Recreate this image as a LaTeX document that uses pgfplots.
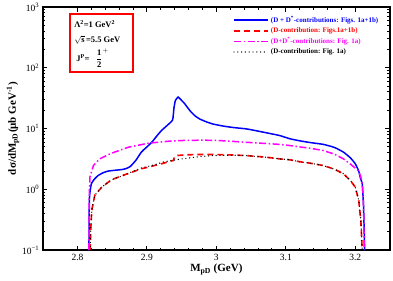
\documentclass[border=0pt]{standalone}
\usepackage{pgfplots}
\pgfplotsset{compat=1.18}
\usepackage{fontspec}
\setmainfont{Liberation Serif}
\definecolor{mblue}{RGB}{0,0,255}
\definecolor{mred}{RGB}{255,0,0}
\definecolor{mmag}{RGB}{255,0,255}
\begin{document}
\begin{tikzpicture}
\begin{axis}[
  name=ax,
  scale only axis,
  width=347pt, height=243pt,
  xmin=2.75, xmax=3.25,
  ymode=log, ymin=0.1, ymax=1000,
  xtick={2.8,2.9,3,3.1,3.2},
  xticklabels={2.8,2.9,3,3.1,3.2},
  minor x tick num=4,
  ytick={0.1,1,10,100,1000},
  yticklabels={10\textsuperscript{−1},10\textsuperscript{0},10\textsuperscript{1},10\textsuperscript{2},10\textsuperscript{3}},
  tick align=inside,
  major tick length=4.5pt,
  minor tick length=2.5pt,
  tick style={line width=1pt, black},
  axis line style={line width=1.8pt},
  ticklabel style={font=\fontsize{9.5}{10}\selectfont},
  xlabel={\textbf{M\textsubscript{pD} (GeV)}},
  ylabel={\textbf{dσ/dM\textsubscript{pD}(μb GeV\textsuperscript{-1})}},
  label style={font=\fontsize{11}{12}\selectfont},
  xlabel style={yshift=3pt},
  ylabel style={yshift=-4pt},
  legend cell align=left,
  legend style={draw=none, fill=none, at={(rel axis cs:0.545,0.975)}, anchor=north west,
     font=\fontsize{7}{8}\selectfont\bfseries, row sep=-0.5pt, inner sep=1pt},
  legend image code/.code={\draw[#1] (0cm,0cm) -- (1.2cm,0cm);},
  clip=true,
]
\addplot[mblue, line width=1.5pt, smooth, tension=0.3] coordinates {
(2.8165,0.1) (2.817,0.5) (2.8175,0.8) (2.820,1.24) (2.825,1.5) (2.830,1.70) (2.837,1.88) (2.844,2.0) (2.855,2.07) (2.864,2.12) (2.870,2.2) (2.876,2.38) (2.884,3.0) (2.892,4.1) (2.900,5.0) (2.907,5.96) (2.914,7.5) (2.921,9.3) (2.930,11.5) (2.937,13.9) (2.939,22) (2.941,29) (2.945,33) (2.950,29) (2.954,26) (2.962,19.7) (2.969,16.3) (2.976,14.4) (2.985,13.0) (2.995,11.9) (3.01,11.0) (3.025,10.4) (3.043,9.9) (3.06,9.1) (3.075,8.4) (3.091,7.7) (3.106,6.8) (3.12,6.3) (3.135,5.9) (3.154,5.5) (3.17,4.9) (3.183,4.1) (3.193,3.3) (3.2,2.64) (3.205,2.0) (3.207,1.6) (3.210,1.24) (3.211,0.85) (3.212,0.5) (3.2135,0.1)
};
\addlegendentry{\textcolor{mblue}{(D + D\textsuperscript{*}-contributions: Figs. 1a+1b)}}
\addplot[mred, line width=1.6pt, dash pattern=on 6pt off 4pt] coordinates {
(2.8185,0.1) (2.819,0.2) (2.820,0.35) (2.821,0.48) (2.825,0.8) (2.835,1.09) (2.849,1.44) (2.868,1.74) (2.892,2.18) (2.921,2.64) (2.938,2.99) (2.940,3.5) (2.943,3.6) (2.955,3.7) (2.975,3.75) (2.995,3.75) (3.02,3.7) (3.043,3.6) (3.07,3.4) (3.091,3.18) (3.106,3.07) (3.12,2.85) (3.135,2.7) (3.154,2.47) (3.17,2.15) (3.183,1.81) (3.193,1.4) (3.2,1.09) (3.205,0.66) (3.208,0.31) (3.210,0.1)
};
\addlegendentry{\textcolor{mred}{(D-contribution: Figs.1a+1b)}}
\addplot[mmag, line width=1.5pt, dash pattern=on 7pt off 2.5pt on 1.5pt off 2.5pt] coordinates {
(2.8165,0.1) (2.817,0.8) (2.818,1.6) (2.823,2.47) (2.832,3.18) (2.849,3.94) (2.873,4.93) (2.902,5.75) (2.931,6.2) (2.955,6.4) (2.98,6.45) (3.0,6.4) (3.02,6.2) (3.043,5.96) (3.07,5.7) (3.091,5.5) (3.106,5.26) (3.12,5.0) (3.135,4.75) (3.154,4.36) (3.17,3.8) (3.183,3.18) (3.195,2.5) (3.205,2.0) (3.208,1.6) (3.210,1.24) (3.211,0.85) (3.212,0.5) (3.213,0.1)
};
\addlegendentry{\textcolor{mmag}{(D+D\textsuperscript{*}-contributions: Fig. 1a)}}
\addplot[black, line width=1.4pt, line cap=round, dash pattern=on 0pt off 3.8pt] coordinates {
(2.8185,0.1) (2.819,0.2) (2.820,0.35) (2.821,0.48) (2.825,0.8) (2.835,1.09) (2.849,1.44) (2.868,1.74) (2.892,2.25) (2.907,2.47) (2.925,2.85) (2.94,3.05) (2.957,3.25) (2.975,3.45) (2.995,3.6) (3.02,3.65) (3.043,3.6) (3.07,3.4) (3.091,3.18) (3.106,3.07) (3.12,2.85) (3.135,2.7) (3.154,2.47) (3.17,2.15) (3.183,1.81) (3.193,1.4) (3.2,1.09) (3.205,0.66) (3.208,0.31) (3.210,0.1)
};
\addlegendentry{(D-contribution: Fig. 1a)}
\draw[mred, line width=1.3pt] ([xshift=27.3pt,yshift=-7pt]rel axis cs:0,1) rectangle ([xshift=90.3pt,yshift=-65pt]rel axis cs:0,1);
\path ([xshift=31.3pt,yshift=-17pt]rel axis cs:0,1) node[anchor=west, inner sep=0pt, font=\fontsize{8.5}{9}\selectfont\bfseries] {Λ\textsuperscript{2}=1 GeV\textsuperscript{2}};
\path ([xshift=31.3pt,yshift=-33pt]rel axis cs:0,1) node[anchor=west, inner sep=0pt, font=\fontsize{8.5}{9}\selectfont\bfseries] {$\sqrt{\mathbf{s}}$\,=5.5 GeV};
\path ([xshift=33.3pt,yshift=-51pt]rel axis cs:0,1) node[anchor=west, inner sep=0pt, font=\fontsize{8.5}{9}\selectfont\bfseries] {J\textsuperscript{P}= \ \ $\displaystyle\frac{\mathbf{1}}{\mathbf{2}}^{+}$};
\end{axis}
\pgfresetboundingbox
\path[use as bounding box] ([xshift=-42.7pt,yshift=-30pt]ax.south west) rectangle ([xshift=3pt,yshift=7pt]ax.north east);
\end{tikzpicture}
\end{document}
